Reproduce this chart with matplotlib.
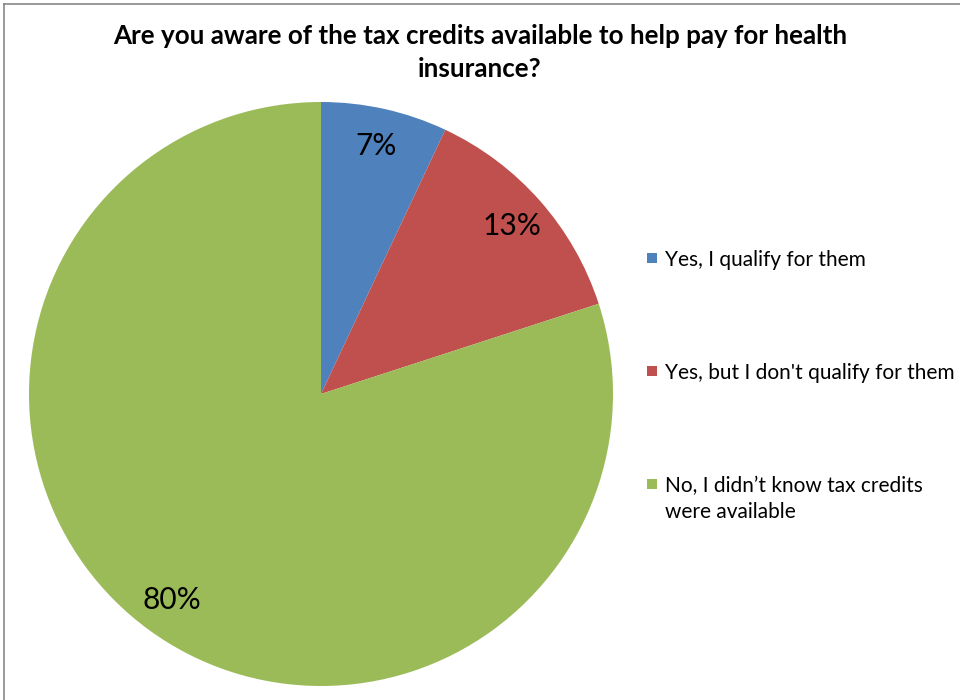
import matplotlib.pyplot as plt
from matplotlib.lines import Line2D
from matplotlib.patches import Rectangle

# survey answers, shares in percent
answers = ['Yes, I qualify for them',
           "Yes, but I don't qualify for them",
           'No, I didn\u2019t know tax credits\nwere available']
shares = [7, 13, 80]
colors = ['#4F81BD', '#C0504D', '#9BBB59']
title = 'Are you aware of the tax credits available to help pay for health\ninsurance?'

plt.rcParams['font.family'] = ['Lato', 'DejaVu Sans']

W, H = 960, 700
fig = plt.figure(figsize=(W / 100, H / 100), dpi=100)

# pie axes: centre about (321, 394) px, radius about 292 px
ax = fig.add_axes([29 / W, (H - 394 - 292) / H, 584 / W, 584 / H])
wedges, texts, autotexts = ax.pie(shares, colors=colors, startangle=90, counterclock=False,
                                  autopct='%d%%', pctdistance=0.87, radius=1.0,
                                  textprops={'fontsize': 21.5, 'color': 'black'})
ax.set_xlim(-1, 1)
ax.set_ylim(-1, 1)
ax.set_aspect('auto')
ax.axis('off')

fig.text(0.5, 1 - 24 / H, title, ha='center', va='top', fontsize=18.7, fontweight='bold',
         linespacing=1.45)

# legend drawn by hand so the marker sits on the first line of a wrapped label
row_y = 258
row_step = 113
for i, (label, c) in enumerate(zip(answers, colors)):
    yc = row_y + i * row_step
    fig.add_artist(Rectangle((647 / W, 1 - (yc + 5) / H), 10 / W, 10 / H,
                             facecolor=c, edgecolor='none', transform=fig.transFigure))
    fig.text(665 / W, 1 - (yc - 8) / H, label, ha='left', va='top', fontsize=15,
             linespacing=1.35)

# chart frame, only left and top edges fall inside the picture
fig.add_artist(Line2D([4 / W, 4 / W], [0, 1 - 3.5 / H], color='#888888', lw=1.2,
                      transform=fig.transFigure))
fig.add_artist(Line2D([4 / W, 1], [1 - 3.5 / H, 1 - 3.5 / H], color='#888888', lw=1.2,
                      transform=fig.transFigure))

fig.savefig('out.png', dpi=100)
